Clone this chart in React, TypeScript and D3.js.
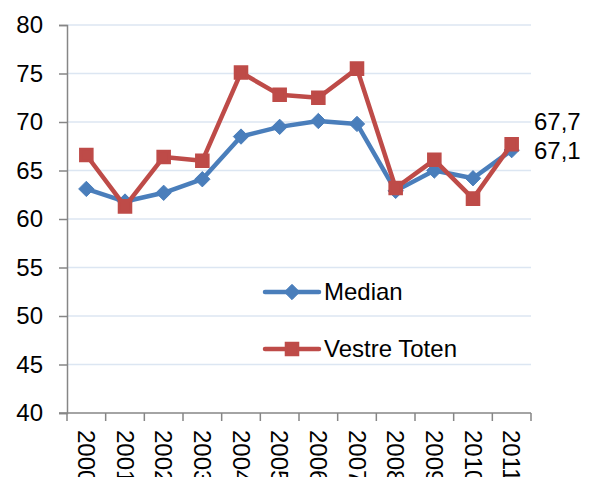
import React, { useEffect, useRef } from "react";
import * as d3 from "d3";

const years = ["2000", "2001", "2002", "2003", "2004", "2005", "2006", "2007", "2008", "2009", "2010", "2011"];
const median = [63.1, 61.8, 62.7, 64.1, 68.5, 69.5, 70.1, 69.8, 62.9, 65.0, 64.2, 67.1];
const vestreToten = [66.6, 61.3, 66.4, 66.0, 75.1, 72.8, 72.5, 75.5, 63.2, 66.1, 62.1, 67.7];
const yTicks = [40, 45, 50, 55, 60, 65, 70, 75, 80];

const BLUE = "#4a7ebb";
const RED = "#be4b48";

const App = () => {
  const svgRef = useRef<SVGSVGElement>(null);

  useEffect(() => {
    const svg = d3.select(svgRef.current);
    svg.selectAll("*").remove();

    const left = 67, right = 531, top = 25, bottom = 413;
    const x = d3.scaleBand().domain(years).range([left, right]);
    const y = d3.scaleLinear().domain([40, 80]).range([bottom, top]);
    const font = "'Liberation Sans', Arial, sans-serif";
    const fs = 24;

    // gridlines
    svg.append("g")
      .selectAll("line")
      .data(yTicks.filter((t) => t > 40))
      .join("line")
      .attr("x1", left)
      .attr("x2", right)
      .attr("y1", (d) => y(d))
      .attr("y2", (d) => y(d))
      .attr("stroke", "#dce6f2")
      .attr("stroke-width", 1.5);

    // y axis
    const yAxis = svg.append("g")
      .attr("transform", `translate(${left},0)`)
      .call(d3.axisLeft(y).tickValues(yTicks).tickSize(8).tickPadding(16));
    yAxis.select(".domain").attr("stroke", "#868686").attr("stroke-width", 1.5);
    yAxis.selectAll(".tick line").attr("stroke", "#868686").attr("stroke-width", 1.5);
    yAxis.selectAll("text")
      .attr("font-family", font)
      .attr("font-size", fs)
      .attr("fill", "#000");

    // x axis
    const xAxis = svg.append("g").attr("transform", `translate(0,${bottom})`);
    xAxis.append("line")
      .attr("x1", left - 8)
      .attr("x2", right)
      .attr("stroke", "#868686")
      .attr("stroke-width", 1.5);
    xAxis.selectAll(".xt")
      .data([...years.map((d) => x(d) as number), right])
      .join("line")
      .attr("class", "xt")
      .attr("x1", (d) => d)
      .attr("x2", (d) => d)
      .attr("y1", 0)
      .attr("y2", 8)
      .attr("stroke", "#868686")
      .attr("stroke-width", 1.5);
    xAxis.selectAll("text")
      .data(years)
      .join("text")
      .attr("transform", (d) => `translate(${(x(d) as number) + x.bandwidth() / 2},17) rotate(90)`)
      .attr("dy", "0.35em")
      .attr("font-family", font)
      .attr("font-size", fs)
      .attr("fill", "#000")
      .text((d) => d);

    const cx = (d: string) => (x(d) as number) + x.bandwidth() / 2;

    const drawSeries = (vals: number[], color: string, marker: "diamond" | "square") => {
      const line = d3.line<number>().x((_, i) => cx(years[i])).y((d) => y(d));
      svg.append("path")
        .datum(vals)
        .attr("d", line)
        .attr("fill", "none")
        .attr("stroke", color)
        .attr("stroke-width", 4.5)
        .attr("stroke-linejoin", "round");
      const sym = d3.symbol()
        .type(marker === "diamond" ? d3.symbolDiamond2 : d3.symbolSquare2)
        .size(marker === "diamond" ? 150 : 170);
      svg.append("g")
        .selectAll("path")
        .data(vals)
        .join("path")
        .attr("transform", (d, i) => `translate(${cx(years[i])},${y(d)})`)
        .attr("d", sym as any)
        .attr("fill", color)
        .attr("stroke", color)
        .attr("stroke-width", marker === "diamond" ? 1 : 3);
    };

    drawSeries(median, BLUE, "diamond");
    drawSeries(vestreToten, RED, "square");

    // end labels
    svg.append("text")
      .attr("x", 534).attr("y", 130)
      .attr("font-family", font).attr("font-size", fs).attr("fill", "#000")
      .text(vestreToten[vestreToten.length - 1].toFixed(1).replace(".", ","));
    svg.append("text")
      .attr("x", 534).attr("y", 159)
      .attr("font-family", font).attr("font-size", fs).attr("fill", "#000")
      .text(median[median.length - 1].toFixed(1).replace(".", ","));

    // legend
    const legend = [
      { name: "Median", color: BLUE, type: d3.symbolDiamond2, size: 150, y: 292 },
      { name: "Vestre Toten", color: RED, type: d3.symbolSquare2, size: 170, y: 349 },
    ];
    const lg = svg.append("g").selectAll("g").data(legend).join("g");
    lg.append("line")
      .attr("x1", 265).attr("x2", 319)
      .attr("y1", (d) => d.y).attr("y2", (d) => d.y)
      .attr("stroke", (d) => d.color)
      .attr("stroke-width", 4.5)
      .attr("stroke-linecap", "round");
    lg.append("path")
      .attr("transform", (d) => `translate(292,${d.y})`)
      .attr("d", (d) => d3.symbol().type(d.type).size(d.size)() as string)
      .attr("fill", (d) => d.color)
      .attr("stroke", (d) => d.color)
      .attr("stroke-width", (d) => (d.name === "Median" ? 1 : 3));
    lg.append("text")
      .attr("x", 324)
      .attr("y", (d) => d.y + 8)
      .attr("font-family", font)
      .attr("font-size", fs)
      .attr("fill", "#000")
      .text((d) => d.name);
  }, []);

  return (
    <svg ref={svgRef} width={589} height={477} style={{ position: "absolute", left: 0, top: 0, background: "#fff" }} />
  );
};

export default App;
